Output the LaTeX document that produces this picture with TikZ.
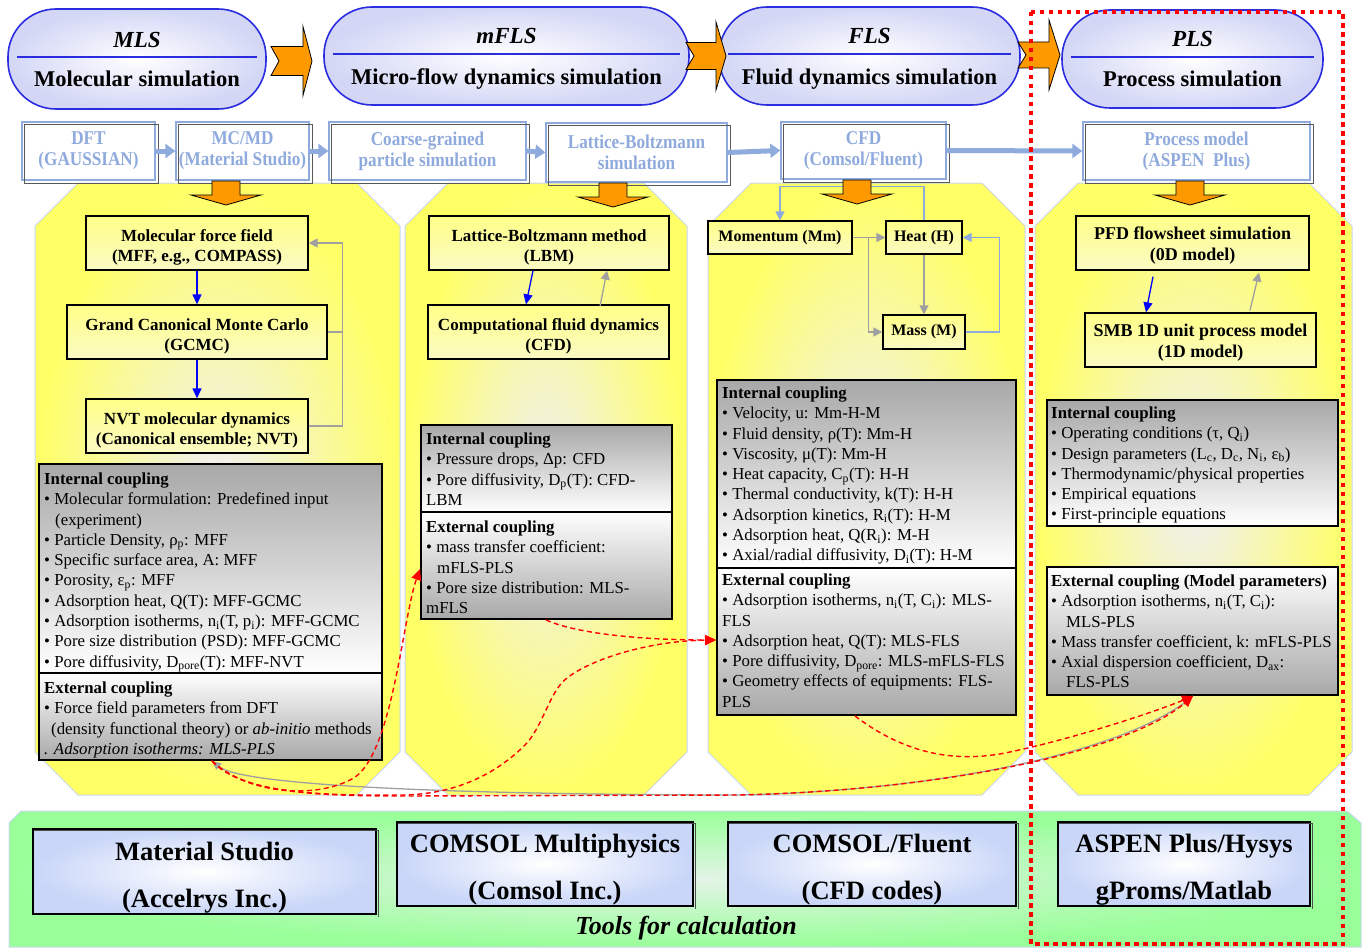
\documentclass[tikz,border=0pt]{standalone}
\usepackage{fontspec}
\setmainfont{Liberation Serif}
\newfontfamily\condserif{Liberation Serif}[FakeStretch=0.88]
\usetikzlibrary{arrows.meta}

\definecolor{pillblue}{HTML}{2B2BE0}
\definecolor{pillfill}{HTML}{D3D7F5}
\definecolor{arrorange}{HTML}{FF9900}
\definecolor{stepblue}{HTML}{8FAADC}
\definecolor{panelyellow}{HTML}{FFFF66}
\definecolor{panelcore}{HTML}{EFEFF6}
\definecolor{paneledge}{HTML}{C8D6F0}
\definecolor{boxtop}{HTML}{FFFF88}
\definecolor{boxbot}{HTML}{FAFAC4}
\definecolor{linkgray}{HTML}{A0A0A0}
\definecolor{couplegray}{HTML}{A8A8A8}
\definecolor{toolgreen}{HTML}{99FF99}
\definecolor{toolcore}{HTML}{E4F4E8}
\definecolor{toolbox}{HTML}{C9D6F8}

\newcommand\fsz[2]{\fontsize{#1pt}{#2pt}\selectfont}
% notched block arrow pointing right: x0, notch, x of head base, x of tip, body half, head half, y centre
\newcommand\notcharrow[7]{\path[chev] (#1,#7-#5) -- (#3,#7-#5) -- (#3,#7-#6) -- (#4,#7) -- (#3,#7+#6) -- (#3,#7+#5) -- (#1,#7+#5) -- (#1+#2,#7) -- cycle;}
% block arrow pointing down: x centre, y top
\newcommand\droparrow[2]{\path[chev] (#1-14,#2) -- (#1+14,#2) -- (#1+14,#2+14) -- (#1+35,#2+14) -- (#1,#2+24) -- (#1-35,#2+14) -- (#1-14,#2+14) -- cycle;}
% octagonal panel: x1, y1, x2, y2
\newcommand\panelshape[4]{\path[panel] (#1+43,#2) -- (#3-43,#2) -- (#3,#2+43) -- (#3,#4-43) -- (#3-43,#4) -- (#1+43,#4) -- (#1,#4-43) -- (#1,#2+43) -- cycle;}

\begin{document}
\begin{tikzpicture}[x=1pt,y=-1pt,
  pillshape/.style={draw=pillblue, line width=1.6, inner color=white, outer color=pillfill, rounded corners=48},
  pillline/.style={draw=pillblue, line width=1.4},
  pilltitle/.style={font=\bfseries\itshape\fsz{23}{25}, inner sep=0, anchor=base},
  pillsub/.style={font=\bfseries\fsz{22.5}{25}, inner sep=0, anchor=base},
  chev/.style={fill=arrorange, draw=black, line width=0.8},
  stepbox/.style={draw=stepblue, line width=1.3, fill=white, text=stepblue, font=\condserif\bfseries\fsz{19.5}{21}, align=center, inner sep=0},
  stepshadow/.style={draw=black!65, line width=1.3},
  steparrow/.style={draw=stepblue, line width=5, -{Triangle[length=10pt,width=14pt]}},
  panel/.style={draw=paneledge, line width=1, inner color=panelcore, outer color=panelyellow},
  modelbox/.style={draw=black, line width=1.3, top color=boxtop, bottom color=boxbot, font=\bfseries\fsz{17}{20}, align=center, inner sep=0},
  twoline/.style={text height=41pt},
  couple/.style={font=\fsz{16.8}{20.3}, align=left, inner sep=0, anchor=north west},
  coupleframe/.style={draw=black, line width=1.8},
  bluearrow/.style={draw=blue, line width=1.3, -{Triangle[length=10pt,width=9pt]}},
  graylink/.style={draw=linkgray, line width=1.3},
  grayarrow/.style={graylink, -{Triangle[length=9pt,width=9pt]}},
  lightarrow/.style={draw=stepblue, line width=1.3, -{Triangle[length=9pt,width=9pt]}},
  redlink/.style={draw=red, line width=1.4, dash pattern=on 5pt off 3.5pt},
  redtip/.style={-{Triangle[length=11pt,width=10pt]}},
  toolbox/.style={draw=black, line width=1.2, inner color=white, outer color=toolbox, font=\bfseries\fsz{26.5}{47}, align=center, inner sep=0, text height=77pt},
  redframe/.style={draw=red, line width=4.5, dash pattern=on 4.5pt off 4.5pt}
]
\useasboundingbox (0,0) rectangle (1364,947);

% ---------- band of calculation tools ----------
\path[draw=paneledge, line width=1, inner color=toolcore, outer color=toolgreen]
  (9,823) -- (21,811) -- (1347,811) -- (1361,823) -- (1361,947) -- (9,947) -- cycle;

% ---------- four simulation panels ----------
\panelshape{35}{183}{400}{795}
\panelshape{405}{183}{687}{795}
\panelshape{708}{183}{1025}{795}
\panelshape{1035}{183}{1352}{795}

% ---------- scale headers ----------
\path[pillshape] (8,9) rectangle (266,109);
\draw[pillline] (17,57) -- (257,57);
\node[pilltitle] (mlsT) at (137,48) {MLS};
\node[pillsub] (mlsS) at (137,87) {Molecular simulation};

\path[pillshape] (324,7) rectangle (689,105);
\draw[pillline] (333,54) -- (680,54);
\node[pilltitle] (mflsT) at (506.5,44) {mFLS};
\node[pillsub] (mflsS) at (506.5,85) {Micro-flow dynamics simulation};

\path[pillshape] (719,7) rectangle (1020,105);
\draw[pillline] (728,54) -- (1011,54);
\node[pilltitle] (flsT) at (869.5,44) {FLS};
\node[pillsub] (flsS) at (869.5,85) {Fluid dynamics simulation};

\path[pillshape] (1062,10) rectangle (1323,108);
\draw[pillline] (1071,57) -- (1314,57);
\node[pilltitle] (plsT) at (1192.5,47) {PLS};
\node[pillsub] (plsS) at (1192.5,87) {Process simulation};

\notcharrow{271}{8}{303}{312}{14.5}{34.5}{61}
\notcharrow{686}{8}{716}{726}{13.5}{34}{56}
\notcharrow{1018}{8}{1049}{1060}{13}{35}{55}

% ---------- software chain ----------
\node[stepbox, minimum width=133, minimum height=58] (dft) at (88.5,151) {DFT\\(GAUSSIAN)};
\node[stepbox, minimum width=133, minimum height=58] (mcmd) at (242.5,151) {MC/MD\\(Material Studio)};
\node[stepbox, minimum width=197, minimum height=58] (coarse) at (427.5,151) {Coarse-grained\\particle simulation};
\node[stepbox, minimum width=181, minimum height=59] (lattice) at (636.5,152.5) {Lattice-Boltzmann\\simulation};
\node[stepbox, minimum width=165, minimum height=57] (cfd) at (863.5,150.5) {CFD\\(Comsol/Fluent)};
\node[stepbox, minimum width=227, minimum height=58] (procm) at (1196.5,151) {Process model\\(ASPEN\ \ Plus)};
\foreach \b in {dft,mcmd,coarse,lattice,cfd,procm}
  \draw[stepshadow] ([shift={(3,3)}]\b.north west) rectangle ([shift={(3,3)}]\b.south east);
\draw[steparrow] (dft.east) -- (mcmd.west);
\draw[steparrow] (mcmd.east) -- (coarse.west);
\draw[steparrow] (coarse.east) -- (lattice.west);
\draw[steparrow] (lattice.east) -- (cfd.west);
\draw[steparrow] (cfd.east) -- (procm.west);

% ---------- MLS panel ----------
\node[modelbox, twoline, minimum width=222, minimum height=54] (mff) at (197,243) {Molecular force field\\(MFF, e.g., COMPASS)};
\node[modelbox, twoline, minimum width=260, minimum height=54] (gcmc) at (197,332) {Grand Canonical Monte Carlo\\(GCMC)};
\node[modelbox, twoline, minimum width=222, minimum height=54] (nvt) at (197,426) {NVT molecular dynamics\\(Canonical ensemble; NVT)};
\draw[bluearrow] (mff.south) -- (gcmc.north);
\draw[bluearrow] (gcmc.south) -- (nvt.north);
\draw[graylink] (gcmc.east) -- ++(15,0);
\draw[grayarrow] (nvt.east) -- ++(34,0) |- (mff.east);

\shade[top color=couplegray, bottom color=white] (39,464) rectangle (382,673);
\shade[top color=white, bottom color=couplegray] (39,673) rectangle (382,760);
\draw[coupleframe] (39,464) rectangle (382,760);
\draw[coupleframe] (39,673) -- (382,673);
\node[couple] (mlsint) at (44,470) {\strut\textbf{Internal coupling}\\
• Molecular formulation: Predefined input\\
\hspace*{11pt}(experiment)\\
• Particle Density, ρ\textsubscript{p}: MFF\\
• Specific surface area, A: MFF\\
• Porosity, ε\textsubscript{p}: MFF\\
• Adsorption heat, Q(T): MFF-GCMC\\
• Adsorption isotherms, n\textsubscript{i}(T, p\textsubscript{i}): MFF-GCMC\\
• Pore size distribution (PSD): MFF-GCMC\\
• Pore diffusivity, D\textsubscript{pore}(T): MFF-NVT};
\node[couple] (mlsext) at (44,679) {\strut\textbf{External coupling}\\
• Force field parameters from DFT\\
\hspace*{7pt}(density functional theory) or \textit{ab-initio} methods\\
\textit{. Adsorption isotherms: MLS-PLS}};

% ---------- mFLS panel ----------
\node[modelbox, twoline, minimum width=240, minimum height=54] (lbm) at (549,243) {Lattice-Boltzmann method\\(LBM)};
\node[modelbox, twoline, minimum width=241, minimum height=54] (cfdm) at (548.5,332) {Computational fluid dynamics\\(CFD)};
\draw[bluearrow] ([xshift=-16]lbm.south) -- ([xshift=-22.5]cfdm.north);
\draw[grayarrow] ([xshift=51.5,yshift=-2]cfdm.north) -- ([xshift=58]lbm.south);

\shade[top color=couplegray, bottom color=white] (421,425) rectangle (672,512);
\shade[top color=white, bottom color=couplegray] (421,512) rectangle (672,619);
\draw[coupleframe] (421,425) rectangle (672,619);
\draw[coupleframe] (421,512) -- (672,512);
\node[couple] (mflsint) at (426,430) {\strut\textbf{Internal coupling}\\
• Pressure drops, Δp: CFD\\
• Pore diffusivity, D\textsubscript{p}(T): CFD-\\
LBM};
\node[couple] (mflsext) at (426,518) {\strut\textbf{External coupling}\\
• mass transfer coefficient:\\
\hspace*{11pt}mFLS-PLS\\
• Pore size distribution: MLS-\\
mFLS};

% ---------- FLS panel ----------
\node[modelbox, font=\bfseries\fsz{16}{20}, minimum width=144, minimum height=33] (mom) at (780,237.5) {Momentum (Mm)};
\node[modelbox, font=\bfseries\fsz{16}{20}, minimum width=76, minimum height=33] (heat) at (924,237.5) {Heat (H)};
\node[modelbox, font=\bfseries\fsz{16}{20}, minimum width=82, minimum height=34] (mass) at (924,332) {Mass (M)};
\draw[lightarrow] (heat.north) -- ++(0,-34) -| (mom.north);
\draw[grayarrow] (mom.east) -- (heat.west);
\draw[grayarrow] ([xshift=16]mom.east) |- (mass.west);
\draw[grayarrow] (heat.south) -- (mass.north);
\draw[lightarrow] (mass.east) -- ++(34,0) |- (heat.east);

\shade[top color=couplegray, bottom color=white] (717,380) rectangle (1016,568);
\shade[top color=white, bottom color=couplegray] (717,568) rectangle (1016,715);
\draw[coupleframe] (717,380) rectangle (1016,715);
\draw[coupleframe] (717,568) -- (1016,568);
\node[couple] (flsint) at (722,384) {\strut\textbf{Internal coupling}\\
• Velocity, u: Mm-H-M\\
• Fluid density, ρ(T): Mm-H\\
• Viscosity, μ(T): Mm-H\\
• Heat capacity, C\textsubscript{p}(T): H-H\\
• Thermal conductivity, k(T): H-H\\
• Adsorption kinetics, R\textsubscript{i}(T): H-M\\
• Adsorption heat, Q(R\textsubscript{i}): M-H\\
• Axial/radial diffusivity, D\textsubscript{i}(T): H-M};
\node[couple] (flsext) at (722,571) {\strut\textbf{External coupling}\\
• Adsorption isotherms, n\textsubscript{i}(T, C\textsubscript{i}): MLS-\\
FLS\\
• Adsorption heat, Q(T): MLS-FLS\\
• Pore diffusivity, D\textsubscript{pore}: MLS-mFLS-FLS\\
• Geometry effects of equipments: FLS-\\
PLS};

% ---------- PLS panel ----------
\node[modelbox, font=\bfseries\fsz{18}{21}, text height=38pt, minimum width=233, minimum height=54] (pfd) at (1192.5,243) {PFD flowsheet simulation\\(0D model)};
\node[modelbox, font=\bfseries\fsz{18}{21}, text height=38pt, minimum width=231, minimum height=54] (smb) at (1200.5,340) {SMB 1D unit process model\\(1D model)};
\draw[bluearrow] ([xshift=-39.5,yshift=-6]pfd.south) -- ([xshift=-54.5]smb.north);
\draw[grayarrow] ([xshift=49.5,yshift=2]smb.north) -- ([xshift=66.5,yshift=-2]pfd.south);

\shade[top color=couplegray, bottom color=white] (1047,400) rectangle (1338,526);
\draw[coupleframe] (1047,400) rectangle (1338,526);
\shade[top color=white, bottom color=couplegray] (1047,567) rectangle (1338,695);
\draw[coupleframe] (1047,567) rectangle (1338,695);
\node[couple] (plsint) at (1051,404) {\strut\textbf{Internal coupling}\\
• Operating conditions (τ, Q\textsubscript{i})\\
• Design parameters (L\textsubscript{c}, D\textsubscript{c}, N\textsubscript{i}, ε\textsubscript{b})\\
• Thermodynamic/physical properties\\
• Empirical equations\\
• First-principle equations};
\node[couple] (plsext) at (1051,572) {\strut\textbf{External coupling (Model parameters)}\\
• Adsorption isotherms, n\textsubscript{i}(T, C\textsubscript{i}):\\
\hspace*{15pt}MLS-PLS\\
• Mass transfer coefficient, k: mFLS-PLS\\
• Axial dispersion coefficient, D\textsubscript{ax}:\\
\hspace*{15pt}FLS-PLS};

% ---------- block arrows into the panels ----------
\droparrow{226}{181}
\droparrow{613}{183}
\droparrow{857}{180}
\droparrow{1190}{181}

% ---------- external coupling links ----------
\coordinate (mlsport) at (212,761);
\coordinate (mflsport) at (420,569);
\coordinate (flsport) at (716,640);
\coordinate (plsport) at (1193,696);
\coordinate (mflsbot) at (546,620);
\coordinate (flsbot) at (855,716);

\draw[graylink, -{Triangle[length=9pt,width=8pt]}] (plsport) .. controls (1130,750) and (950,790) .. (740,795)
  .. controls (600,795) and (250,792) .. (mlsport);
\draw[redlink, redtip] (mlsport) .. controls (245,792) and (310,800) .. (350,780)
  .. controls (392,762) and (402,620) .. (mflsport);
\draw[redlink, redtip] (mlsport) .. controls (240,790) and (300,796) .. (400,795)
  .. controls (460,795) and (500,770) .. (525,745)
  .. controls (540,730) and (548,700) .. (560,685)
  .. controls (575,665) and (640,641) .. (flsport);
\draw[redlink, redtip] (mlsport) .. controls (240,790) and (300,796) .. (400,796) -- (740,795)
  .. controls (950,790) and (1130,750) .. (plsport);
\draw[redlink, redtip] (mflsbot) .. controls (580,635) and (650,640) .. (flsport);
\draw[redlink, redtip] (flsbot) .. controls (900,750) and (950,765) .. (1010,752)
  .. controls (1080,737) and (1160,710) .. (plsport);

% ---------- tools ----------
\node[toolbox, minimum width=343, minimum height=85] (ms) at (204.5,871.5) {Material Studio\\(Accelrys Inc.)};
\node[toolbox, minimum width=296, minimum height=84] (cm) at (545,864) {COMSOL Multiphysics\\(Comsol Inc.)};
\node[toolbox, minimum width=288, minimum height=84] (cf) at (872,864) {COMSOL/Fluent\\(CFD codes)};
\node[toolbox, minimum width=252, minimum height=84] (asp) at (1184,864) {ASPEN Plus/Hysys\\gProms/Matlab};
\foreach \b in {ms,cm,cf,asp}
  \draw[black!70, line width=1.2] ([shift={(2,2)}]\b.north west) -- ([shift={(2,2)}]\b.north east) -- ([shift={(2,2)}]\b.south east);
\node[font=\bfseries\itshape\fsz{26}{28}, inner sep=0] (tools) at (686,928) {Tools for calculation};

% ---------- process-scale frame ----------
\draw[redframe] (1031,12) rectangle (1343,944);
\end{tikzpicture}
\end{document}
